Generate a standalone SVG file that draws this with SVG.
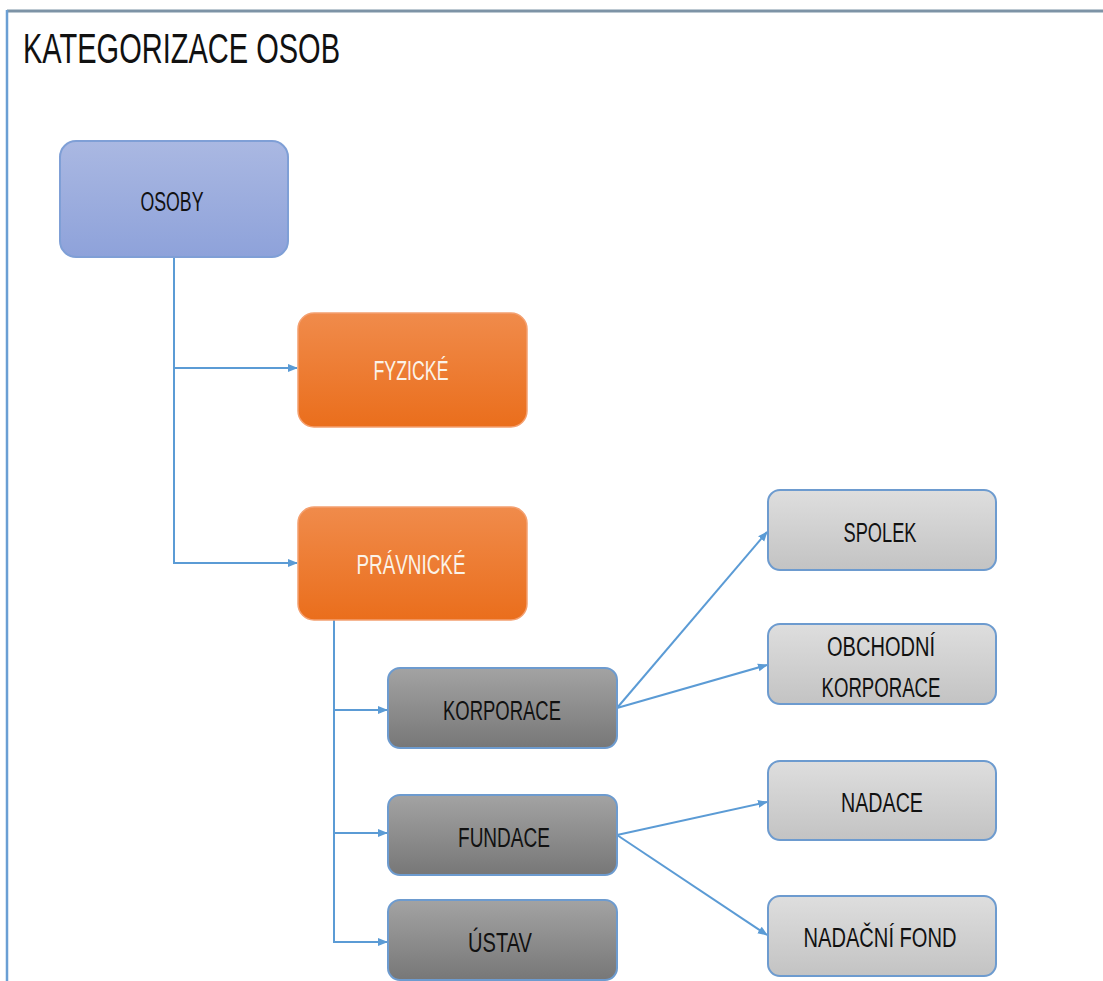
<svg xmlns="http://www.w3.org/2000/svg" width="1103" height="981" viewBox="0 0 1103 981">
<defs>
<linearGradient id="gBlue" x1="0" y1="0" x2="0" y2="1"><stop offset="0" stop-color="#aab8e2"/><stop offset="1" stop-color="#8ea2da"/></linearGradient>
<linearGradient id="gOrange" x1="0" y1="0" x2="0" y2="1"><stop offset="0" stop-color="#f08b4b"/><stop offset="1" stop-color="#ea6e1c"/></linearGradient>
<linearGradient id="gDark" x1="0" y1="0" x2="0" y2="1"><stop offset="0" stop-color="#a3a3a3"/><stop offset="1" stop-color="#777777"/></linearGradient>
<linearGradient id="gLight" x1="0" y1="0" x2="0" y2="1"><stop offset="0" stop-color="#dedede"/><stop offset="1" stop-color="#c3c3c3"/></linearGradient>
<marker id="arr" markerUnits="userSpaceOnUse" markerWidth="10" markerHeight="10" viewBox="0 0 10 10" refX="9" refY="5" orient="auto"><path d="M0,1 L10,5 L0,9 z" fill="#5b9bd5"/></marker>
<style>
.lbl{font-family:"Liberation Sans",Arial,sans-serif;font-size:27px;text-anchor:middle}
.dk{fill:#111}
.wt{fill:#fbf3e8}
.conn{fill:none;stroke:#5b9bd5;stroke-width:2}
.blue{fill:url(#gBlue);stroke:#7f9fd6;stroke-width:2}
.orng{fill:url(#gOrange);stroke:#f4a070;stroke-width:1.5}
.dark{fill:url(#gDark);stroke:#6d9bcf;stroke-width:2}
.light{fill:url(#gLight);stroke:#6d9bcf;stroke-width:2}
</style>
</defs>
<rect x="0" y="0" width="1103" height="981" fill="#ffffff"/>
<g id="frame">
<line x1="7" y1="11" x2="1103" y2="11" stroke="#7d93a6" stroke-width="3"/>
<line x1="7" y1="10" x2="7" y2="981" stroke="#6a9fd4" stroke-width="2.5"/>
</g>
<text id="title" x="23" y="63" font-family="'Liberation Sans',Arial,sans-serif" font-size="42" fill="#111" textLength="317" lengthAdjust="spacingAndGlyphs">KATEGORIZACE OSOB</text>
<g id="connectors">
<path class="conn" d="M174 257 V563 H297" marker-end="url(#arr)"/>
<path class="conn" d="M174 368 H297" marker-end="url(#arr)"/>
<path class="conn" d="M334 620 V942 H387" marker-end="url(#arr)"/>
<path class="conn" d="M334 710 H387" marker-end="url(#arr)"/>
<path class="conn" d="M334 833 H387" marker-end="url(#arr)"/>
<path class="conn" d="M617 708 L767 532" marker-end="url(#arr)"/>
<path class="conn" d="M617 708 L767 665" marker-end="url(#arr)"/>
<path class="conn" d="M617 835 L767 802" marker-end="url(#arr)"/>
<path class="conn" d="M617 835 L767 935" marker-end="url(#arr)"/>
</g>
<g id="osoby">
<rect class="blue" x="60" y="141" width="228" height="116" rx="16"/>
<text class="lbl dk" x="172" y="211" textLength="63" lengthAdjust="spacingAndGlyphs">OSOBY</text>
</g>
<g id="fyzicke">
<rect class="orng" x="298" y="313" width="229" height="114" rx="16"/>
<text class="lbl wt" x="411" y="380" textLength="75" lengthAdjust="spacingAndGlyphs">FYZICKÉ</text>
</g>
<g id="pravnicke">
<rect class="orng" x="298" y="507" width="229" height="113" rx="16"/>
<text class="lbl wt" x="411" y="574" textLength="109" lengthAdjust="spacingAndGlyphs">PRÁVNICKÉ</text>
</g>
<g id="korporace">
<rect class="dark" x="388" y="668" width="229" height="80" rx="12"/>
<text class="lbl dk" x="502" y="720" textLength="118" lengthAdjust="spacingAndGlyphs">KORPORACE</text>
</g>
<g id="fundace">
<rect class="dark" x="388" y="795" width="229" height="80" rx="12"/>
<text class="lbl dk" x="504" y="847" textLength="92" lengthAdjust="spacingAndGlyphs">FUNDACE</text>
</g>
<g id="ustav">
<rect class="dark" x="388" y="900" width="229" height="80" rx="12"/>
<text class="lbl dk" x="500" y="952" textLength="64" lengthAdjust="spacingAndGlyphs">ÚSTAV</text>
</g>
<g id="spolek">
<rect class="light" x="768" y="490" width="228" height="80" rx="12"/>
<text class="lbl dk" x="880" y="542" textLength="73" lengthAdjust="spacingAndGlyphs">SPOLEK</text>
</g>
<g id="obchodni">
<rect class="light" x="768" y="624" width="228" height="80" rx="12"/>
<text class="lbl dk" x="881" y="656" textLength="108" lengthAdjust="spacingAndGlyphs">OBCHODNÍ</text>
<text class="lbl dk" x="881" y="697" textLength="119" lengthAdjust="spacingAndGlyphs">KORPORACE</text>
</g>
<g id="nadace">
<rect class="light" x="768" y="761" width="228" height="79" rx="12"/>
<text class="lbl dk" x="882" y="812" textLength="82" lengthAdjust="spacingAndGlyphs">NADACE</text>
</g>
<g id="nadacni-fond">
<rect class="light" x="768" y="896" width="228" height="80" rx="12"/>
<text class="lbl dk" x="880" y="947" textLength="153" lengthAdjust="spacingAndGlyphs">NADAČNÍ FOND</text>
</g>
</svg>
